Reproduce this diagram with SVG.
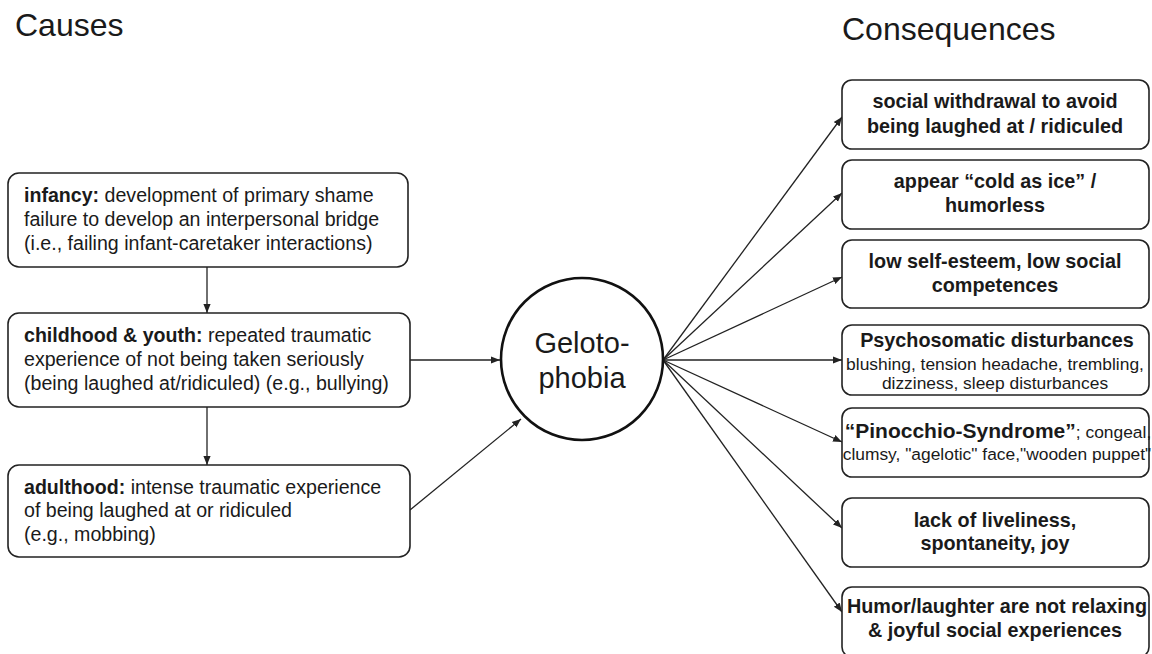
<svg xmlns="http://www.w3.org/2000/svg" width="1152" height="654" viewBox="0 0 1152 654">
<style>
text{font-family:"Liberation Sans",Arial,sans-serif;fill:#1a1a1a}
.box{fill:#fff;stroke:#222;stroke-width:1.6}
.l{font-size:19.6px}
.r{font-size:19.8px;font-weight:bold;text-anchor:middle}
.s{font-size:17.4px;font-weight:normal}
.b{font-weight:bold}
.h{font-size:32px}
.c{stroke:#222;stroke-width:1.3;fill:none;marker-end:url(#a)}
</style>
<defs>
<marker id="a" viewBox="0 0 10 10" refX="10" refY="5" markerWidth="9" markerHeight="9" markerUnits="userSpaceOnUse" orient="auto">
<path d="M0,1 L10,5 L0,9 z" fill="#222"/>
</marker>
</defs>
<rect width="1152" height="654" fill="#fff"/>
<text class="h" x="15" y="36">Causes</text>
<text class="h" x="842" y="40">Consequences</text>
<g id="connectors">
<line class="c" x1="207" y1="267" x2="207" y2="313"/>
<line class="c" x1="207" y1="407" x2="207" y2="465"/>
<line class="c" x1="410" y1="360" x2="500" y2="360"/>
<line class="c" x1="410" y1="510" x2="521" y2="419"/>
<line class="c" x1="663" y1="360" x2="842" y2="117"/>
<line class="c" x1="663" y1="360" x2="842" y2="193"/>
<line class="c" x1="663" y1="360" x2="842" y2="277"/>
<line class="c" x1="663" y1="360" x2="842" y2="360"/>
<line class="c" x1="663" y1="360" x2="842" y2="442"/>
<line class="c" x1="663" y1="360" x2="842" y2="528"/>
<line class="c" x1="663" y1="360" x2="842" y2="612"/>
</g>
<g id="infancy">
<rect class="box" x="8" y="173" width="400" height="94" rx="11"/>
<text class="l" x="24" y="202"><tspan class="b">infancy:</tspan> development of primary shame</text>
<text class="l" x="24" y="226">failure to develop an interpersonal bridge</text>
<text class="l" x="24" y="250">(i.e., failing infant-caretaker interactions)</text>
</g>
<g id="childhood">
<rect class="box" x="8" y="313" width="402" height="94" rx="11"/>
<text class="l" x="24" y="342"><tspan class="b">childhood &amp; youth:</tspan> repeated traumatic</text>
<text class="l" x="24" y="366">experience of not being taken seriously</text>
<text class="l" x="24" y="390">(being laughed at/ridiculed) (e.g., bullying)</text>
</g>
<g id="adulthood">
<rect class="box" x="8" y="465" width="402" height="92" rx="11"/>
<text class="l" x="24" y="494"><tspan class="b">adulthood:</tspan> intense traumatic experience</text>
<text class="l" x="24" y="517">of being laughed at or ridiculed</text>
<text class="l" x="24" y="541">(e.g., mobbing)</text>
</g>
<g id="gelotophobia">
<circle cx="582" cy="359" r="81" fill="#fff" stroke="#111" stroke-width="2.6"/>
<text x="582" y="353" font-size="29" text-anchor="middle">Geloto-</text>
<text x="582" y="388" font-size="29" text-anchor="middle">phobia</text>
</g>
<g id="c1">
<rect class="box" x="842" y="80" width="307" height="69" rx="10"/>
<text class="r" x="995" y="108">social withdrawal to avoid</text>
<text class="r" x="995" y="133">being laughed at / ridiculed</text>
</g>
<g id="c2">
<rect class="box" x="842" y="160" width="307" height="69" rx="10"/>
<text class="r" x="995" y="188">appear “cold as ice”  /</text>
<text class="r" x="995" y="212">humorless</text>
</g>
<g id="c3">
<rect class="box" x="842" y="240" width="307" height="68" rx="10"/>
<text class="r" x="995" y="268">low self-esteem, low social</text>
<text class="r" x="995" y="292">competences</text>
</g>
<g id="c4">
<rect class="box" x="842" y="325" width="307" height="70" rx="10"/>
<text class="r" x="997" y="347" font-size="21.5">Psychosomatic disturbances</text>
<text class="r s" x="995" y="370">blushing, tension headache, trembling,</text>
<text class="r s" x="995" y="389">dizziness, sleep disturbances</text>
</g>
<g id="c5">
<rect class="box" x="842" y="408" width="307" height="69" rx="10"/>
<text class="r" x="998" y="438"><tspan font-size="21">“Pinocchio-Syndrome”</tspan><tspan class="s" font-size="16">; congeal,</tspan></text>
<text class="r s" x="997" y="460">clumsy, "agelotic" face,"wooden puppet"</text>
</g>
<g id="c6">
<rect class="box" x="842" y="498" width="307" height="69" rx="10"/>
<text class="r" x="995" y="527">lack of liveliness,</text>
<text class="r" x="995" y="550">spontaneity, joy</text>
</g>
<g id="c7">
<rect class="box" x="842" y="587" width="307" height="70" rx="10"/>
<text class="r" x="997" y="613">Humor/laughter are not relaxing</text>
<text class="r" x="995" y="637">&amp; joyful social experiences</text>
</g>
</svg>
